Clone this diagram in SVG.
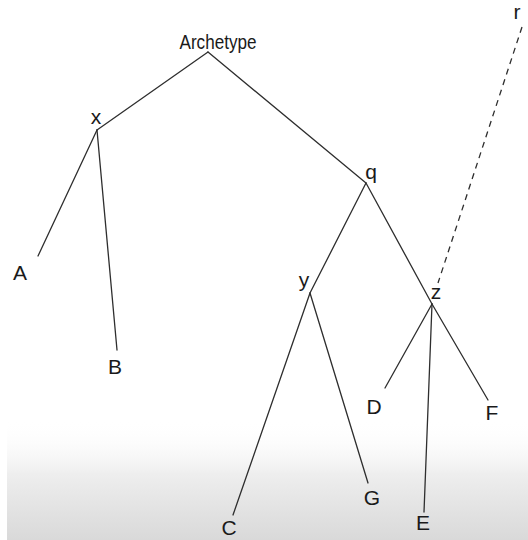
<svg xmlns="http://www.w3.org/2000/svg" width="528" height="540" viewBox="0 0 528 540">
<defs>
<linearGradient id="bg" x1="0" y1="0" x2="0" y2="1">
<stop offset="0" stop-color="#ffffff" stop-opacity="0"/>
<stop offset="0.45" stop-color="#eeeeee" stop-opacity="1"/>
<stop offset="1" stop-color="#d9d9d9" stop-opacity="1"/>
</linearGradient>
<style>
.e{stroke:#2e2e2e;stroke-width:1.3;fill:none;stroke-linecap:round}
.d{stroke:#2e2e2e;stroke-width:1.3;fill:none;stroke-dasharray:6 5}
text{font-family:"Liberation Sans",Arial,sans-serif;font-size:21px;fill:#1a1a1a;text-anchor:middle}
</style>
</defs>
<rect width="528" height="540" fill="#ffffff"/>
<rect x="7" y="420" width="521" height="120" fill="url(#bg)"/>
<g id="connectors">
<line class="e" x1="208" y1="52" x2="97" y2="130"/>
<line class="e" x1="208" y1="52" x2="366" y2="183"/>
<line class="e" x1="97" y1="130" x2="38" y2="256"/>
<line class="e" x1="97" y1="130" x2="117" y2="350"/>
<line class="e" x1="366" y1="183" x2="310" y2="293"/>
<line class="e" x1="366" y1="183" x2="432" y2="304"/>
<line class="e" x1="310" y1="293" x2="233" y2="515"/>
<line class="e" x1="310" y1="293" x2="368" y2="483"/>
<line class="e" x1="432" y1="304" x2="385" y2="388"/>
<line class="e" x1="432" y1="304" x2="424" y2="512"/>
<line class="e" x1="432" y1="304" x2="488" y2="400"/>
<line class="d" x1="522" y1="27" x2="438" y2="283"/>
</g>
<g id="node-archetype"><text x="218" y="49" textLength="77" lengthAdjust="spacingAndGlyphs">Archetype</text></g>
<g id="node-x"><text x="96" y="124">x</text></g>
<g id="node-q"><text x="371" y="179">q</text></g>
<g id="node-y"><text x="304" y="287">y</text></g>
<g id="node-z"><text x="436" y="299">z</text></g>
<g id="node-r"><text x="517" y="19">r</text></g>
<g id="node-A"><text x="20" y="280">A</text></g>
<g id="node-B"><text x="115" y="374">B</text></g>
<g id="node-C"><text x="229" y="535">C</text></g>
<g id="node-G"><text x="372" y="505">G</text></g>
<g id="node-D"><text x="374" y="414">D</text></g>
<g id="node-E"><text x="423" y="530">E</text></g>
<g id="node-F"><text x="492" y="420">F</text></g>
</svg>
